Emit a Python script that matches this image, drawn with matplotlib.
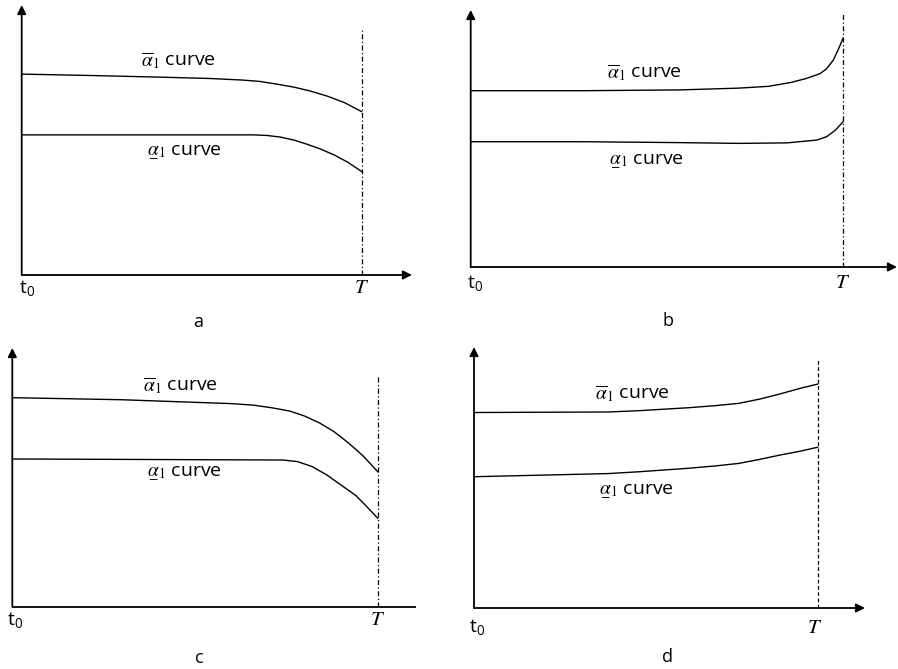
import matplotlib
matplotlib.use("Agg")
import matplotlib.pyplot as plt

plt.rcParams['font.family'] = ['Open Sans', 'DejaVu Sans']
plt.rcParams['mathtext.fontset'] = 'stix'

# time as a fraction of T, value as a fraction of the y-axis height
t_a_up = [0, 0.2, 0.4, 0.55, 0.65, 0.70, 0.75, 0.80, 0.85, 0.90, 0.95, 1.0]
v_a_up = [0.744, 0.739, 0.733, 0.728, 0.722, 0.717, 0.707, 0.696, 0.681, 0.662, 0.638, 0.605]
t_a_lo = [0, 0.68, 0.72, 0.76, 0.80, 0.84, 0.88, 0.92, 0.96, 1.0]
v_a_lo = [0.519, 0.519, 0.517, 0.511, 0.500, 0.484, 0.466, 0.444, 0.417, 0.383]

t_b_up = [0, 0.30, 0.56, 0.72, 0.80, 0.86, 0.90, 0.938, 0.955, 0.974, 0.99, 1.0]
v_b_up = [0.686, 0.686, 0.689, 0.696, 0.703, 0.718, 0.733, 0.752, 0.770, 0.805, 0.855, 0.890]
t_b_lo = [0, 0.30, 0.56, 0.72, 0.85, 0.93, 0.956, 0.98, 1.0]
v_b_lo = [0.4875, 0.4875, 0.484, 0.481, 0.483, 0.494, 0.507, 0.533, 0.565]

t_c_up = [0, 0.3, 0.5, 0.6, 0.66, 0.71, 0.76, 0.80, 0.84, 0.88, 0.92, 0.96, 1.0]
v_c_up = [0.808, 0.800, 0.790, 0.785, 0.779, 0.769, 0.756, 0.737, 0.711, 0.677, 0.633, 0.583, 0.522]
t_c_lo = [0, 0.74, 0.78, 0.82, 0.86, 0.90, 0.94, 0.97, 1.0]
v_c_lo = [0.571, 0.567, 0.561, 0.542, 0.510, 0.470, 0.430, 0.387, 0.342]

t_d_up = [0, 0.39, 0.48, 0.62, 0.70, 0.77, 0.83, 0.89, 0.95, 1.0]
v_d_up = [0.749, 0.751, 0.756, 0.767, 0.775, 0.784, 0.800, 0.820, 0.842, 0.858]
t_d_lo = [0, 0.39, 0.48, 0.62, 0.70, 0.77, 0.83, 0.89, 0.95, 1.0]
v_d_lo = [0.503, 0.515, 0.522, 0.535, 0.544, 0.554, 0.569, 0.586, 0.601, 0.616]

panel_names = ["a", "b", "c", "d"]
upper_label = r'$\overline{\alpha}_1$ curve'
lower_label = r'$\underset{-}{\alpha}_1$ curve'

W, H = 898, 669
fig = plt.figure(figsize=(W / 100, H / 100), dpi=100)


def draw_panel(name, x0, y0, xT, xtip, ytop, up, lo, dash_top, lab_up, lab_lo,
               letter_pos, t0_pos, T_pos, x_arrow=True, dash_style=(0, (4, 2, 1, 2))):
    ax = fig.add_axes([x0 / W, 1 - y0 / H, (xtip - x0) / W, (y0 - ytop) / H])
    ax.set_xlim(0, (xtip - x0) / (xT - x0))
    ax.set_ylim(0, 1)
    ax.axis('off')

    # axes with arrow heads
    ax.annotate('', xy=(0, 1), xytext=(0, 0), xycoords='axes fraction',
                arrowprops=dict(arrowstyle='-|>', color='black', lw=1.3,
                                mutation_scale=13, shrinkA=0, shrinkB=0))
    if x_arrow:
        ax.annotate('', xy=(1, 0), xytext=(0, 0), xycoords='axes fraction',
                    arrowprops=dict(arrowstyle='-|>', color='black', lw=1.3,
                                    mutation_scale=13, shrinkA=0, shrinkB=0))
    else:
        ax.plot([0, 1], [0, 0], color='black', lw=1.3, transform=ax.transAxes,
                clip_on=False, solid_capstyle='butt')

    ax.plot([1, 1], [0, dash_top], color='black', lw=0.9, linestyle=dash_style)
    ax.plot(up[0], up[1], color='black', lw=1.0, clip_on=False)
    ax.plot(lo[0], lo[1], color='black', lw=1.0, clip_on=False)

    ax.text(lab_up[0], lab_up[1], upper_label, fontsize=14, ha='center', va='baseline')
    ax.text(lab_lo[0], lab_lo[1], lower_label, fontsize=14, ha='center', va='baseline')
    ax.text(t0_pos[0], t0_pos[1], r'$\mathregular{t_0}$', fontsize=14,
            ha='center', va='center', clip_on=False)
    ax.text(T_pos[0], T_pos[1], r'$T$', fontsize=15, ha='center', va='center', clip_on=False)
    ax.text(letter_pos[0], letter_pos[1], name, fontsize=13, ha='center', va='center',
            clip_on=False)


draw_panel("a", 21.7, 275, 361.7, 412, 5, (t_a_up, v_a_up), (t_a_lo, v_a_lo), 0.915,
           (0.46, 0.774), (0.48, 0.453), (0.52, -0.174), (0.015, -0.048), (1.0, -0.048))
draw_panel("b", 470.7, 267, 843, 897, 10, (t_b_up, v_b_up), (t_b_lo, v_b_lo), 0.988,
           (0.468, 0.734), (0.473, 0.412), (0.53, -0.21), (0.012, -0.062), (1.0, -0.062))
draw_panel("c", 12.3, 606.7, 377.7, 416, 348, (t_c_up, v_c_up), (t_c_lo, v_c_lo), 0.889,
           (0.459, 0.834), (0.47, 0.516), (0.511, -0.198), (0.007, -0.051), (1.0, -0.051),
           x_arrow=False)
draw_panel("d", 474, 608, 817.7, 865, 347, (t_d_up, v_d_up), (t_d_lo, v_d_lo), 0.954,
           (0.46, 0.801), (0.474, 0.446), (0.562, -0.188), (0.009, -0.073), (0.992, -0.073),
           dash_style=(0, (3, 2)))

fig.savefig("out.png", dpi=100)
